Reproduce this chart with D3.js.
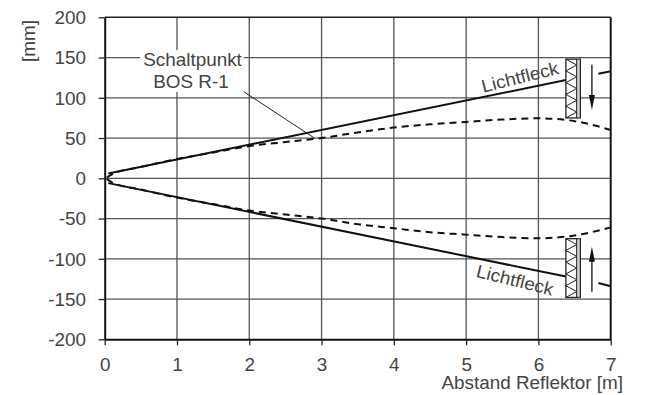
<!DOCTYPE html>
<html>
<head>
<meta charset="utf-8">
<script src="https://cdn.jsdelivr.net/npm/d3@7"></script>
<style>
  body { margin: 0; background: #fff; }
  text { font-family: "Liberation Sans", Arial, sans-serif; fill: #444; }
</style>
</head>
<body>
<div id="chart-container"></div>
<script>
// chart size, same as the picture
const svgWidth = 659;
const svgHeight = 395;
// plot area edges in pixels
const plot = { left: 104.7, right: 610.7, top: 17.3, bottom: 339.3 };
const fontSize = 18;
const stretch = 1.05; // the source text is a touch wider than Liberation Sans

// ticks
const xTicks = [0, 1, 2, 3, 4, 5, 6, 7];
const yTicks = [-200, -150, -100, -50, 0, 50, 100, 150, 200];

// light spot edges (solid) and switching point (dashed), in [m, mm]
const solidUpper = [[0.05, 6], [6.38, 122]];
const solidUpperTail = [[6.83, 130], [7, 133]];
const solidLower = [[0.05, -6], [6.38, -122]];
const solidLowerTail = [[6.83, -130], [7, -134]];
const dashedUpper = [[0.03, 1], [0.1, 5], [0.5, 14], [1, 24], [1.5, 32], [2, 40], [2.5, 45],
  [3, 50], [3.5, 57], [4, 63], [4.5, 67], [5, 70], [5.5, 73], [6, 74.5], [6.5, 71], [7, 60]];
const dashedLower = [[0.03, -1], [0.1, -5], [0.5, -14], [1, -24], [1.5, -32], [2, -40], [2.5, -45],
  [3, -50], [3.5, -57], [4, -62], [4.5, -67], [5, -70], [5.5, -73], [6, -74.5], [6.5, -71], [7, -61]];

// reflector boxes: x range and y range
const reflectors = [
  { x0: 6.38, x1: 6.53, x2: 6.58, yLo: 75, yHi: 148 },
  { x0: 6.38, x1: 6.53, x2: 6.58, yLo: -148, yHi: -75 }
];
// movement arrows: x, start, end
const arrows = [
  { x: 6.74, from: 141, to: 85 },
  { x: 6.74, from: -141, to: -85 }
];

const svg = d3.select("#chart-container")
  .append("svg")
  .attr("width", svgWidth)
  .attr("height", svgHeight);

const x = d3.scaleLinear().domain([0, 7]).range([plot.left, plot.right]);
const y = d3.scaleLinear().domain([-200, 200]).range([plot.bottom, plot.top]);

// place a slightly stretched text
function stretchText(str, px, py, rot, anchor) {
  return svg.append("text")
    .text(str)
    .attr("text-anchor", anchor || "middle")
    .attr("dominant-baseline", "central")
    .attr("font-size", fontSize)
    .attr("transform", `translate(${px},${py}) rotate(${rot || 0}) scale(${stretch},1)`);
}

// grid
svg.append("g").selectAll("line")
  .data(xTicks.slice(1, -1))
  .enter().append("line")
  .attr("x1", d => x(d)).attr("x2", d => x(d))
  .attr("y1", plot.top).attr("y2", plot.bottom)
  .attr("stroke", "#555").attr("stroke-width", 1.3);
svg.append("g").selectAll("line")
  .data(yTicks.slice(1, -1))
  .enter().append("line")
  .attr("x1", plot.left).attr("x2", plot.right)
  .attr("y1", d => y(d)).attr("y2", d => y(d))
  .attr("stroke", "#555").attr("stroke-width", 1.3);

// frame: top and right
svg.append("line")
  .attr("x1", plot.left).attr("x2", plot.right)
  .attr("y1", plot.top).attr("y2", plot.top)
  .attr("stroke", "#222").attr("stroke-width", 1.6);
svg.append("line")
  .attr("x1", plot.right).attr("x2", plot.right)
  .attr("y1", plot.top).attr("y2", plot.bottom)
  .attr("stroke", "#111").attr("stroke-width", 2);

// axes
const xAxis = svg.append("g")
  .attr("transform", `translate(0,${plot.bottom})`)
  .call(d3.axisBottom(x).tickValues(xTicks).tickFormat(d => String(d)).tickSize(6).tickSizeOuter(0));
xAxis.select(".domain").attr("stroke", "#111").attr("stroke-width", 2);
xAxis.selectAll(".tick line").attr("stroke", "#222").attr("stroke-width", 1.3);
xAxis.selectAll(".tick text")
  .attr("y", null).attr("dy", null)
  .attr("dominant-baseline", "central")
  .attr("font-size", fontSize).attr("font-family", null).attr("fill", "#444")
  .attr("transform", `translate(0,25.7) scale(${stretch},1)`);

const yAxis = svg.append("g")
  .attr("transform", `translate(${plot.left},0)`)
  .call(d3.axisLeft(y).tickValues(yTicks).tickFormat(d => String(d)).tickSize(6).tickSizeOuter(0));
yAxis.select(".domain").attr("stroke", "#111").attr("stroke-width", 2);
yAxis.selectAll(".tick line").attr("stroke", "#222").attr("stroke-width", 1.3);
yAxis.selectAll(".tick text")
  .attr("x", null).attr("dy", null)
  .attr("dominant-baseline", "central")
  .attr("font-size", fontSize).attr("font-family", null).attr("fill", "#444")
  .attr("transform", `translate(-18.7,0) scale(${stretch},1)`);

// axis titles
stretchText("[mm]", 29, 41, -90);
stretchText("Abstand Reflektor [m]", 623, 383, 0, "end");

// lines
const lineGen = d3.line().x(d => x(d[0])).y(d => y(d[1]));
const curveGen = d3.line().x(d => x(d[0])).y(d => y(d[1])).curve(d3.curveMonotoneX);

[solidUpper, solidUpperTail, solidLower, solidLowerTail].forEach(s => {
  svg.append("path").attr("d", lineGen(s))
    .attr("fill", "none").attr("stroke", "#111").attr("stroke-width", 2);
});
[dashedUpper, dashedLower].forEach(s => {
  svg.append("path").attr("d", curveGen(s))
    .attr("fill", "none").attr("stroke", "#111").attr("stroke-width", 2)
    .attr("stroke-dasharray", "7,5");
});

// reflectors
reflectors.forEach(r => {
  const g = svg.append("g");
  g.append("rect")
    .attr("x", x(r.x0)).attr("y", y(r.yHi))
    .attr("width", x(r.x2) - x(r.x0)).attr("height", y(r.yLo) - y(r.yHi))
    .attr("fill", "#fff").attr("stroke", "#222").attr("stroke-width", 1.3);
  g.append("line")
    .attr("x1", x(r.x1)).attr("x2", x(r.x1))
    .attr("y1", y(r.yHi)).attr("y2", y(r.yLo))
    .attr("stroke", "#222").attr("stroke-width", 1.2);
  g.append("line")
    .attr("x1", (x(r.x1) + x(r.x2)) / 2 + 0.5).attr("x2", (x(r.x1) + x(r.x2)) / 2 + 0.5)
    .attr("y1", y(r.yHi)).attr("y2", y(r.yLo))
    .attr("stroke", "#999").attr("stroke-width", 1);
  // zigzag inside
  const n = 10;
  const pts = d3.range(n + 1).map(i => [i % 2 ? r.x1 : r.x0, r.yHi - (r.yHi - r.yLo) * i / n]);
  g.append("path").attr("d", lineGen(pts))
    .attr("fill", "none").attr("stroke", "#222").attr("stroke-width", 1);
});

// arrows
arrows.forEach(a => {
  const dir = Math.sign(y(a.to) - y(a.from));
  svg.append("line")
    .attr("x1", x(a.x)).attr("x2", x(a.x))
    .attr("y1", y(a.from)).attr("y2", y(a.to) - dir * 12)
    .attr("stroke", "#111").attr("stroke-width", 1.3);
  const tx = x(a.x), ty = y(a.to);
  svg.append("path")
    .attr("d", `M${tx},${ty} L${tx - 3},${ty - dir * 15} L${tx + 3},${ty - dir * 15} Z`)
    .attr("fill", "#111");
});

// labels on the light spot lines
stretchText("Lichtfleck", 520, 77, -14);
stretchText("Lichtfleck", 515, 280, 14);

// switching point annotation
svg.append("line")
  .attr("x1", x(1.85)).attr("y1", y(112))
  .attr("x2", x(2.9)).attr("y2", y(50))
  .attr("stroke", "#222").attr("stroke-width", 1);
svg.append("rect")
  .attr("x", 140).attr("y", 50)
  .attr("width", 104).attr("height", 42)
  .attr("fill", "#fff");
stretchText("Schaltpunkt", 192.5, 60);
stretchText("BOS R-1", 191, 81.5);
</script>
</body>
</html>
